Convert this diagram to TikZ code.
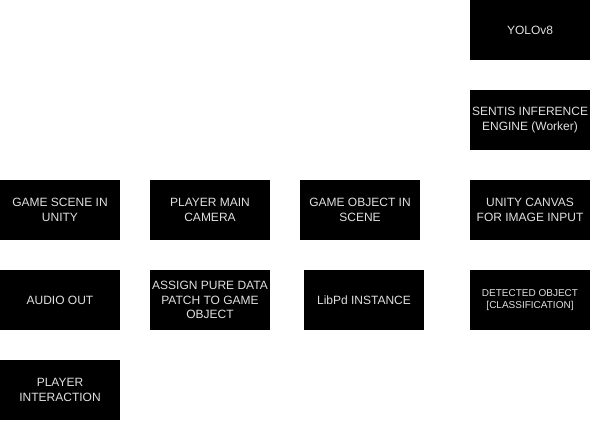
\documentclass[tikz,border=0pt]{standalone}
\usepackage{fontspec}
\setmainfont{Liberation Sans}
\usetikzlibrary{positioning}

\tikzset{
    blk/.style={fill=black, text=white!88!black, minimum width=90pt, minimum height=45pt,
        inner sep=0pt, align=center, font=\fontsize{9}{11}\selectfont},
    small/.style={font=\fontsize{7.5}{8.8}\selectfont}
}

\begin{document}
\begin{tikzpicture}[x=0.75pt, y=-0.75pt]
    \useasboundingbox (0,0) rectangle (591,421);

    % right column (inference)
    \node[blk] (yolo) at (530,30) {YOLOv8};
    \node[blk] (sentis) at (530,120) {SENTIS INFERENCE\\ENGINE (Worker)};
    \node[blk] (canvas) at (530,210) {UNITY CANVAS\\FOR IMAGE INPUT};
    \node[blk, small] (detected) at (530,300) {DETECTED OBJECT\\{[CLASSIFICATION]}};

    % scene row
    \node[blk] (scene) at (60,210) {GAME SCENE IN\\UNITY};
    \node[blk] (camera) at (210,210) {PLAYER MAIN\\CAMERA};
    \node[blk] (object) at (360,210) {GAME OBJECT IN\\SCENE};

    % audio row
    \node[blk] (audio) at (60,300) {AUDIO OUT};
    \node[blk] (patch) at (210,300) {ASSIGN PURE DATA\\PATCH TO GAME\\OBJECT};
    \node[blk] (libpd) at (364,300) {LibPd INSTANCE};

    \node[blk] (interact) at (60,390) {PLAYER\\INTERACTION};
\end{tikzpicture}
\end{document}
